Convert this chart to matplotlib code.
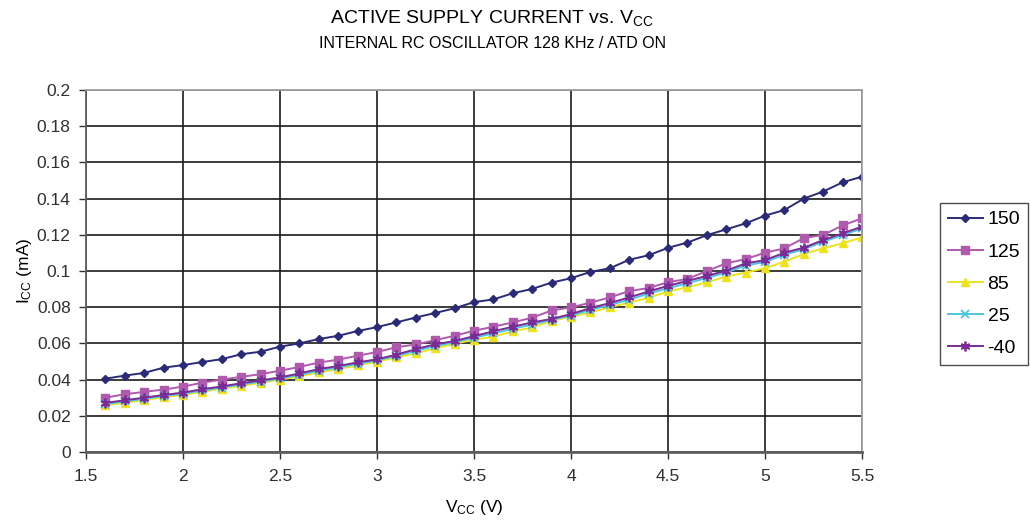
import matplotlib
matplotlib.use("Agg")
from matplotlib import pyplot as plt
from matplotlib.ticker import FuncFormatter, MultipleLocator

plt.rcParams["font.family"] = ["Liberation Sans", "DejaVu Sans"]
plt.rcParams["mathtext.fontset"] = "custom"
plt.rcParams["mathtext.rm"] = "Liberation Sans"
plt.rcParams["mathtext.it"] = "Liberation Sans"

# ----------------------------------------------------------------------------
# Data (Vcc in V, Icc in mA)
# ----------------------------------------------------------------------------
vcc = [1.6, 1.7, 1.8, 1.9, 2.0, 2.1, 2.2, 2.3, 2.4, 2.5,
       2.6, 2.7, 2.8, 2.9, 3.0, 3.1, 3.2, 3.3, 3.4, 3.5,
       3.6, 3.7, 3.8, 3.9, 4.0, 4.1, 4.2, 4.3, 4.4, 4.5,
       4.6, 4.7, 4.8, 4.9, 5.0, 5.1, 5.2, 5.3, 5.4, 5.5]

icc_150 = [0.0405, 0.0422, 0.0437, 0.0466, 0.0480, 0.0497, 0.0513, 0.0540, 0.0554, 0.0582,
           0.0600, 0.0624, 0.0642, 0.0668, 0.0690, 0.0716, 0.0743, 0.0768, 0.0794, 0.0828,
           0.0843, 0.0877, 0.0901, 0.0936, 0.0960, 0.0995, 0.1015, 0.1062, 0.1087, 0.1128,
           0.1157, 0.1198, 0.1230, 0.1263, 0.1306, 0.1337, 0.1400, 0.1439, 0.1490, 0.1521]
icc_125 = [0.0300, 0.0319, 0.0332, 0.0345, 0.0361, 0.0383, 0.0400, 0.0415, 0.0430, 0.0449,
           0.0470, 0.0494, 0.0510, 0.0532, 0.0552, 0.0579, 0.0594, 0.0618, 0.0642, 0.0670,
           0.0692, 0.0716, 0.0742, 0.0782, 0.0799, 0.0825, 0.0854, 0.0889, 0.0906, 0.0938,
           0.0956, 0.1000, 0.1042, 0.1066, 0.1101, 0.1125, 0.1182, 0.1199, 0.1252, 0.1291]
icc_85 = [0.0258, 0.0272, 0.0288, 0.0302, 0.0316, 0.0333, 0.0350, 0.0366, 0.0382, 0.0400,
          0.0418, 0.0440, 0.0458, 0.0478, 0.0499, 0.0523, 0.0545, 0.0572, 0.0598, 0.0620,
          0.0637, 0.0666, 0.0688, 0.0725, 0.0747, 0.0771, 0.0800, 0.0825, 0.0852, 0.0887,
          0.0910, 0.0937, 0.0969, 0.0991, 0.1015, 0.1052, 0.1094, 0.1125, 0.1153, 0.1186]
icc_25 = [0.0265, 0.0279, 0.0294, 0.0309, 0.0322, 0.0340, 0.0356, 0.0373, 0.0389, 0.0406,
          0.0426, 0.0449, 0.0467, 0.0487, 0.0506, 0.0531, 0.0558, 0.0585, 0.0606, 0.0632,
          0.0655, 0.0681, 0.0704, 0.0730, 0.0754, 0.0785, 0.0812, 0.0842, 0.0875, 0.0905,
          0.0932, 0.0962, 0.0992, 0.1030, 0.1050, 0.1090, 0.1120, 0.1162, 0.1198, 0.1235]
icc_m40 = [0.0271, 0.0286, 0.0300, 0.0315, 0.0328, 0.0347, 0.0362, 0.0380, 0.0395, 0.0412,
           0.0434, 0.0458, 0.0475, 0.0495, 0.0512, 0.0538, 0.0568, 0.0595, 0.0613, 0.0640,
           0.0667, 0.0692, 0.0716, 0.0735, 0.0762, 0.0795, 0.0823, 0.0854, 0.0887, 0.0918,
           0.0945, 0.0973, 0.1002, 0.1042, 0.1060, 0.1101, 0.1129, 0.1171, 0.1208, 0.1245]

labels = ["150", "125", "85", "25", "-40"]

# ----------------------------------------------------------------------------
# Plot
# ----------------------------------------------------------------------------
fig = plt.figure(figsize=(10.3, 5.23), dpi=100)
ax = fig.add_axes([0.0835, 0.1358, 0.7534, 0.6921])

styles = [
    dict(color="#2B2A78", marker="D", ms=4.5),
    dict(color="#B05AAE", marker="s", ms=5.5),
    dict(color="#EDE31C", marker="^", ms=6),
    dict(color="#4CC6DE", marker="x", ms=6, mew=1.3),
    dict(color="#7B2B96", marker=(6, 2, 0), ms=7, mew=1.3),
]
for y, lab, st in zip([icc_150, icc_125, icc_85, icc_25, icc_m40], labels, styles):
    ax.plot(vcc, y, lw=1.4, label=lab, **st)

ax.set_xlim(1.5, 5.5)
ax.set_ylim(0, 0.2)
ax.xaxis.set_major_locator(MultipleLocator(0.5))
ax.yaxis.set_major_locator(MultipleLocator(0.02))
fmt = FuncFormatter(lambda v, p: f"{v:g}")
ax.xaxis.set_major_formatter(fmt)
ax.yaxis.set_major_formatter(fmt)
ax.grid(True, color="#1a1a1a", linewidth=1.2)
ax.set_axisbelow(True)
for s in ax.spines.values():
    s.set_color("#a0a0a0")
    s.set_linewidth(1.3)
ax.spines["left"].set_color("#606060")
ax.spines["bottom"].set_color("#606060")
ax.spines["bottom"].set_linewidth(2)
ax.tick_params(axis="both", direction="out", length=5, width=1, color="#303030",
               labelsize=12.5, colors="#303030")
ax.tick_params(axis="x", pad=7)
ax.tick_params(axis="y", pad=6)

ax.set_xlabel("V$_{\\mathregular{CC}}$ (V)", fontsize=12.5, labelpad=10)
ax.set_ylabel("I$_{\\mathregular{CC}}$ (mA)", fontsize=12.5, labelpad=2)

fig.text(0.478, 0.965, "ACTIVE SUPPLY CURRENT vs. V$_{\\mathregular{CC}}$",
         ha="center", va="center", fontsize=14,
         family=["Liberation Sans Narrow", "Liberation Sans"])
fig.text(0.478, 0.916, "INTERNAL RC OSCILLATOR 128 KHz / ATD ON",
         ha="center", va="center", fontsize=11.5,
         family=["Liberation Sans Narrow", "Liberation Sans"])

leg = fig.legend(loc="upper left", bbox_to_anchor=(0.9126, 0.612),
                 fontsize=14, frameon=True, fancybox=False, edgecolor="#222222",
                 handlelength=1.8, handletextpad=0.25, labelspacing=0.75,
                 borderpad=0.4, borderaxespad=0)
leg.get_frame().set_linewidth(1)

fig.savefig("out.png", dpi=100)
